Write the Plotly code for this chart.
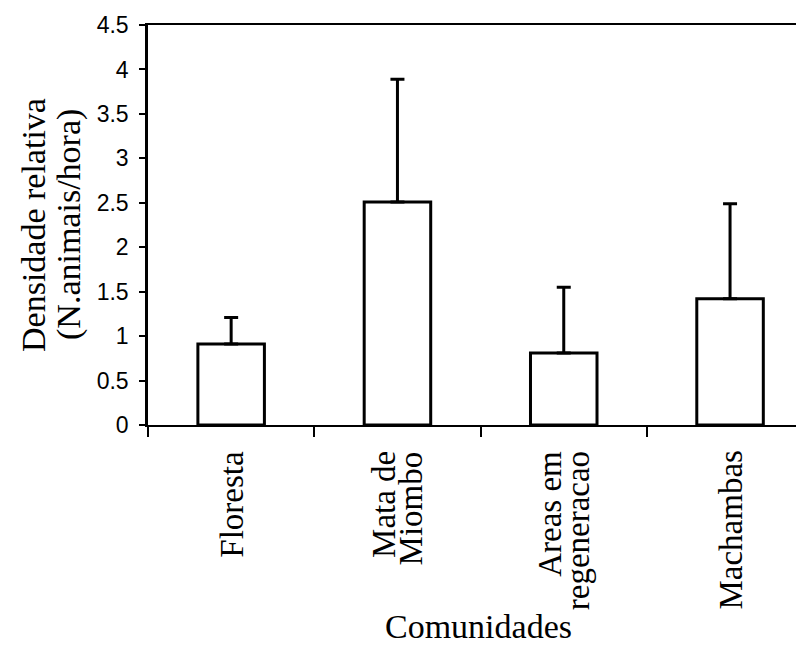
import plotly.graph_objects as go

categories = ["Floresta", "Mata de<br>Miombo", "Areas em<br>regeneracao", "Machambas"]
densidade = [0.91, 2.51, 0.81, 1.42]
erro_sup = [0.30, 1.38, 0.74, 1.07]
y_ticks = [0, 0.5, 1, 1.5, 2, 2.5, 3, 3.5, 4, 4.5]
y_ticklabels = ["0", "0.5", "1", "1.5", "2", "2.5", "3", "3.5", "4", "4.5"]

OFF = 8  # page body margin
W, H = 804 - OFF, 657 - OFF
L, R, T = 148 - OFF, 0, 25 - OFF
plot_h = 400
B = H - T - plot_h
plot_w = W - L - R
cat_px = 166.3

serif = "Liberation Serif"
sans = "Liberation Sans"

fig = go.Figure()
fig.add_trace(go.Bar(
    x=categories,
    y=densidade,
    width=0.40,
    marker=dict(color="white", line=dict(color="black", width=3)),
    error_y=dict(type="data", symmetric=False, array=erro_sup,
                 arrayminus=[0] * len(erro_sup),
                 color="black", thickness=3, width=7),
    showlegend=False,
))

def px_x(px):
    return (px - OFF - L) / plot_w

def px_y(py):
    return (T + plot_h - (py - OFF)) / plot_h

annotations = [
    dict(text="Densidade relativa", textangle=-90, showarrow=False,
         xref="paper", yref="paper", x=px_x(33), y=px_y(225),
         xanchor="center", yanchor="middle",
         font=dict(family=serif, size=34, color="black")),
    dict(text="(N.animais/hora)", textangle=-90, showarrow=False,
         xref="paper", yref="paper", x=px_x(69), y=px_y(225),
         xanchor="center", yanchor="middle",
         font=dict(family=serif, size=34, color="black")),
    dict(text="Comunidades", showarrow=False,
         xref="paper", yref="paper", x=px_x(479), y=px_y(626),
         xanchor="center", yanchor="middle",
         font=dict(family=serif, size=34, color="black")),
]

# category labels: rotated, lines placed side by side with tight spacing
line_gap = 28
for cat in categories:
    lines = cat.split("<br>")
    n = len(lines)
    for i, ln in enumerate(lines):
        shift = (i - (n - 1) / 2) * line_gap
        annotations.append(dict(
            text=ln, textangle=-90, showarrow=False,
            xref="x", yref="paper", x=cat, y=0,
            xanchor="center", yanchor="top",
            xshift=shift, yshift=-24,
            font=dict(family=serif, size=33, color="black"),
        ))

fig.update_layout(
    width=W, height=H,
    margin=dict(l=L, r=R, t=T, b=B, pad=0),
    plot_bgcolor="white", paper_bgcolor="white",
    xaxis=dict(
        type="category",
        range=[-0.5, -0.5 + plot_w / cat_px],
        showline=True, linecolor="black", linewidth=2, mirror=True,
        ticks="outside", tickson="boundaries", ticklen=10, tickwidth=1.5,
        tickcolor="black",
        showticklabels=False,
        showgrid=False, zeroline=False,
    ),
    yaxis=dict(
        range=[0, 4.5],
        tickvals=y_ticks, ticktext=y_ticklabels,
        showline=True, linecolor="black", linewidth=2.5,
        ticks="outside", ticklen=6, tickwidth=1.5, tickcolor="black",
        tickfont=dict(family=sans, size=23, color="black"),
        showgrid=False, zeroline=False,
        ticklabelstandoff=6,
    ),
    annotations=annotations,
)

fig.write_html("out.html")
